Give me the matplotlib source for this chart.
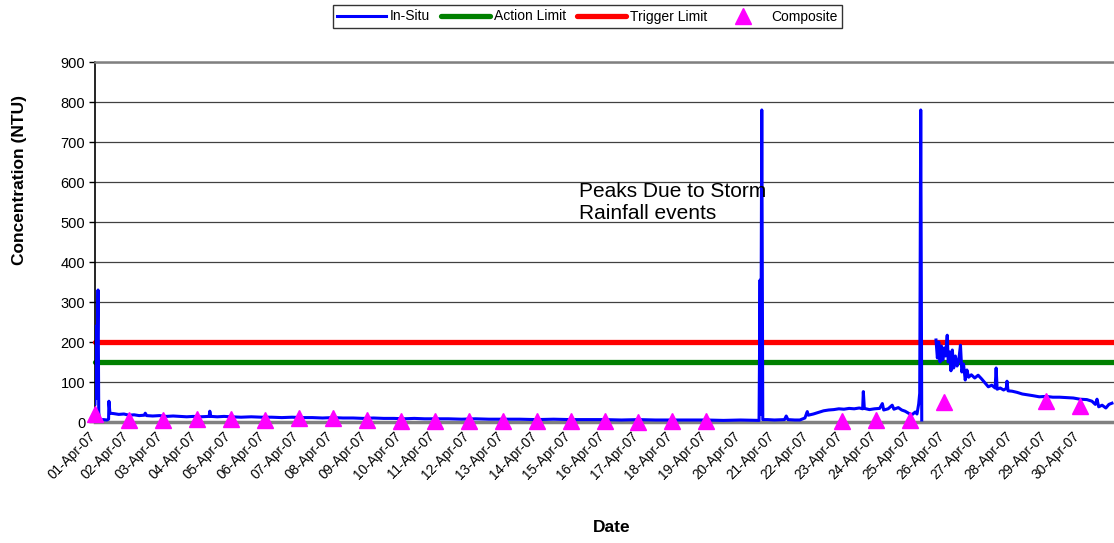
"""
    Turbidity record, April 2007: in-situ probe vs composite samples
    with the action / trigger limits.
"""
import numpy as np
import pandas as pd
import matplotlib
matplotlib.use("Agg")
import matplotlib.pyplot as plt
import matplotlib.dates as mdates
import matplotlib.transforms as mtransforms

plt.rcParams["font.family"] = ["Liberation Sans", "DejaVu Sans"]

start = pd.Timestamp("2007-04-01")

# in-situ record, days after 01-Apr-07 00:00 and NTU
insitu_days = [
    0.00, 0.03, 0.05, 0.09, 0.11, 0.13, 0.25, 0.35, 0.40, 0.41, 0.44, 0.55,
    0.70, 0.85, 1.00, 1.15, 1.30, 1.45, 1.48, 1.52, 1.70, 1.90, 2.10, 2.30,
    2.50, 2.70, 2.90, 3.10, 3.36, 3.38, 3.41, 3.60, 3.80, 4.00, 4.30, 4.60,
    4.90, 5.20, 5.50, 5.80, 6.10, 6.40, 6.70, 7.00, 7.30, 7.60, 7.90, 8.20,
    8.50, 8.80, 9.10, 9.40, 9.70, 10.0, 10.4, 10.8, 11.2, 11.6, 12.0, 12.5,
    13.0, 13.5, 14.0, 14.5, 15.0, 15.5, 16.0, 16.5, 17.0, 17.5, 18.0, 18.5,
    19.0, 19.55, 19.58, 19.60, 19.63, 19.66, 19.8, 20.0, 20.3, 20.35, 20.40,
    20.6, 20.75, 20.9, 20.97, 21.0, 21.15, 21.3, 21.45, 21.6, 21.75, 21.9,
    22.05, 22.2, 22.35, 22.5, 22.6, 22.62, 22.65, 22.8, 22.95, 23.1, 23.18,
    23.22, 23.35, 23.47, 23.52, 23.65, 23.75, 23.85, 23.95, 24.05, 24.15,
    24.2, 24.25, 24.28, 24.31, 24.34, 24.36,
    24.76, 24.80, 24.84, 24.88, 24.92, 24.96, 25.00, 25.04, 25.09, 25.12,
    25.16, 25.20, 25.24, 25.28, 25.33, 25.38, 25.43, 25.48, 25.52, 25.57,
    25.62, 25.67, 25.72, 25.80, 25.90, 26.00, 26.10, 26.20, 26.30, 26.40,
    26.50, 26.53, 26.56, 26.65, 26.75, 26.83, 26.85, 26.88, 27.00, 27.15,
    27.30, 27.45, 27.60, 27.80, 28.00, 28.20, 28.40, 28.60, 28.80, 29.00,
    29.20, 29.35, 29.45, 29.50, 29.55, 29.65, 29.76, 29.85, 29.94,
]
insitu_ntu = [
    45, 240, 60, 330, 25, 5, 6, 5, 7, 52, 22, 21,
    19, 20, 17, 18, 16, 17, 22, 16, 15, 16, 14, 15,
    14, 13, 14, 13, 14, 27, 14, 13, 14, 13, 12, 13,
    12, 12, 11, 12, 11, 11, 10, 11, 10, 10, 9, 10,
    9, 9, 8, 9, 8, 8, 8, 7, 8, 7, 7, 7,
    6, 7, 6, 6, 6, 5, 6, 5, 5, 5, 5, 4,
    5, 4, 355, 20, 780, 6, 6, 5, 6, 15, 6,
    5, 5, 10, 26, 17, 20, 24, 28, 30, 31, 33,
    32, 34, 33, 35, 33, 76, 34, 31, 33, 34, 46,
    30, 33, 42, 32, 36, 30, 27, 22, 18, 25,
    20, 45, 72, 780, 5, np.nan,
    205, 160, 200, 150, 190, 155, 185, 165, 217, 150,
    175, 128, 180, 135, 165, 140, 155, 192, 125, 145,
    105, 130, 112, 118, 110, 117, 108, 98, 88, 92,
    85, 135, 82, 85, 80, 84, 102, 78, 77, 74,
    70, 68, 66, 63, 64, 62, 62, 61, 60, 57,
    56, 52, 44, 57, 38, 42, 35, 44, 47,
]

# composite samples, taken at midnight
composite_days = [0, 1, 2, 3, 4, 5, 6, 7, 8, 9, 10, 11, 12, 13, 14, 15, 16,
                  17, 18, 22, 23, 24, 25, 28, 29]
composite_ntu = [19, 5, 5, 7, 7, 6, 11, 9, 6, 3, 3, 3, 3, 3, 3, 3, 1,
                 3, 3, 3, 5, 4, 50, 53, 40]

action_limit = 150
trigger_limit = 200
limit_days = [0, 30]

note = "Peaks Due to Storm\nRainfall events"

t_insitu = start + pd.to_timedelta(insitu_days, unit="D")
t_comp = start + pd.to_timedelta(composite_days, unit="D")
t_lim = start + pd.to_timedelta(limit_days, unit="D")
t_ticks = pd.date_range("2007-04-01", "2007-04-30", freq="D")

fig = plt.figure(figsize=(11.14, 5.43), dpi=100)
ax = fig.add_axes([95 / 1114, 1 - 422 / 543, 1 - 95 / 1114, 360 / 543])

ax.plot(t_insitu, insitu_ntu, color="#0000FF", lw=2.2, zorder=3,
        label="In-Situ")
ax.plot(t_lim, [action_limit] * 2, color="#008000", lw=3.8, zorder=2,
        solid_capstyle="round", clip_on=False, label="Action Limit")
ax.plot(t_lim, [trigger_limit] * 2, color="#FF0000", lw=3.8, zorder=2,
        solid_capstyle="round", clip_on=False, label="Trigger Limit")
ax.plot(t_comp, composite_ntu, ls="none", marker="^", ms=11,
        color="#FF00FF", zorder=4, clip_on=False, label="Composite")

ax.set_xlim(start, start + pd.Timedelta(days=30))
ax.set_ylim(0, 900)
ax.set_yticks(np.arange(0, 901, 100))

ax.set_xticks(t_ticks)
ax.xaxis.set_major_formatter(mdates.DateFormatter("%d-%b-%y"))
ax.tick_params(axis="x", length=0, pad=5, labelsize=9.8)
ax.tick_params(axis="y", length=4, width=1, labelsize=10.5, pad=3)
# nudge the rotated date labels a little left, like the original
shift = mtransforms.ScaledTranslation(-0.07, 0, fig.dpi_scale_trans)
for lbl in ax.get_xticklabels():
    lbl.set_rotation(45)
    lbl.set_ha("right")
    lbl.set_va("top")
    lbl.set_rotation_mode("anchor")
    lbl.set_transform(lbl.get_transform() + shift)

ax.grid(axis="y", color="#404040", lw=0.9, zorder=0)
ax.set_axisbelow(True)
ax.spines["right"].set_visible(False)
ax.spines["top"].set_color("#808080")
ax.spines["top"].set_linewidth(1.8)
ax.spines["bottom"].set_color("#808080")
ax.spines["bottom"].set_linewidth(2.5)
ax.spines["left"].set_linewidth(1.2)

fig.text(20 / 1114, 1 - 180 / 543, "Concentration (NTU)", fontsize=12.5,
         fontweight="bold", rotation=90, ha="center", va="center")
fig.text(612 / 1114, 1 - 528 / 543, "Date", fontsize=12.5,
         fontweight="bold", ha="center", va="center")

ax.text(start + pd.Timedelta(days=14.26), 600, note, fontsize=15,
        va="top", ha="left", linespacing=1.2)

leg = fig.legend(loc="center left",
                 bbox_to_anchor=(333 / 1114, 1 - 16.5 / 543),
                 ncol=4, fontsize=10, frameon=True, fancybox=False,
                 edgecolor="black", handlelength=3.5, handletextpad=0.3,
                 columnspacing=0.8, borderpad=0.3, borderaxespad=0)
leg.get_frame().set_linewidth(1.0)

fig.savefig("out.png", dpi=100)
